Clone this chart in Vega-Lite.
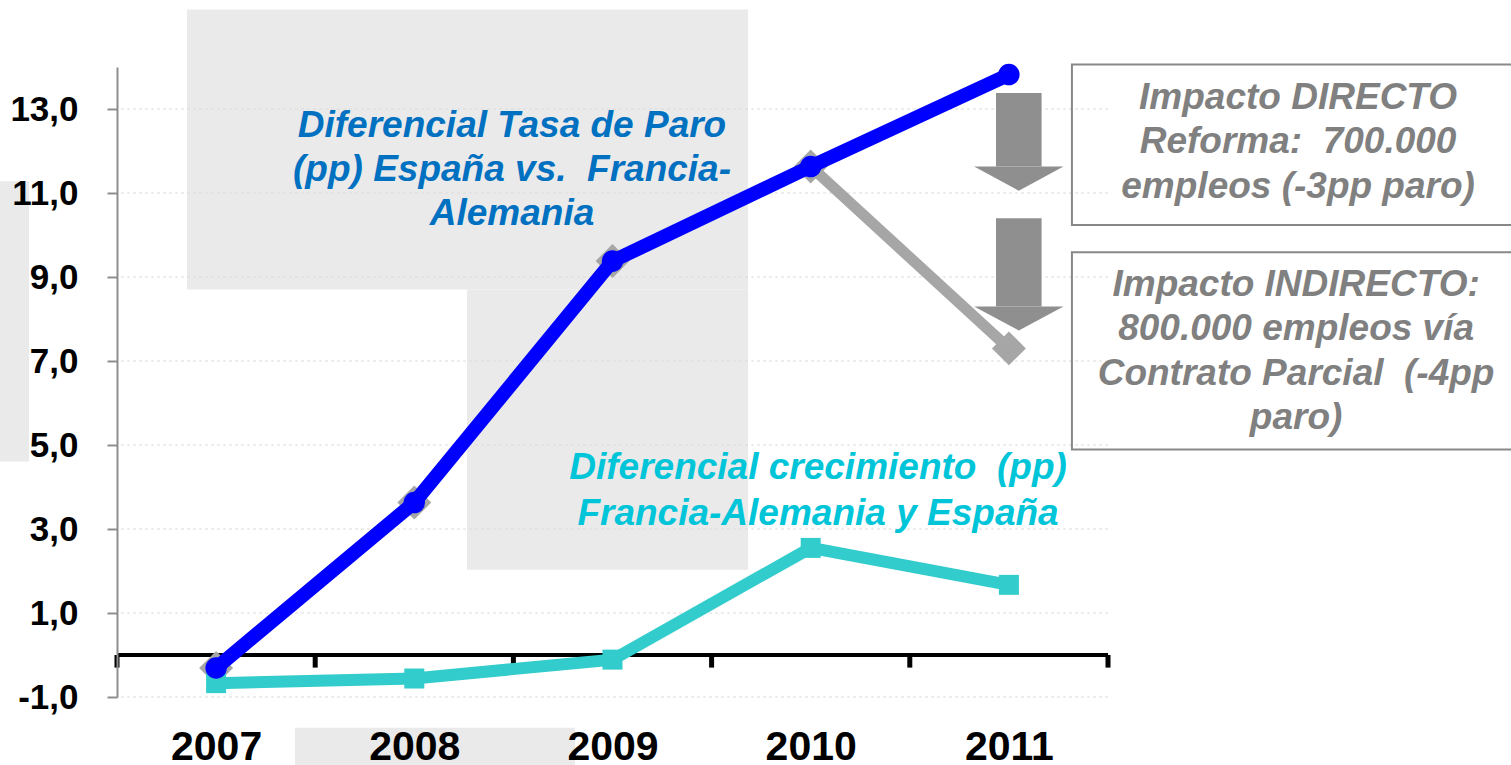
{
  "$schema": "https://vega.github.io/schema/vega-lite/v6.json",
  "autosize": {"type": "none"},
  "width": 991,
  "height": 630,
  "padding": {"left": 117, "top": 67, "right": 403, "bottom": 68},
  "background": "white",
  "config": {"view": {"stroke": null}, "font": "Liberation Sans"},
  "datasets": {
    "series": [
      {"year": 2007, "serie": "Tasa de paro", "value": -0.31},
      {"year": 2008, "serie": "Tasa de paro", "value": 3.63},
      {"year": 2009, "serie": "Tasa de paro", "value": 9.38},
      {"year": 2010, "serie": "Tasa de paro", "value": 11.63},
      {"year": 2011, "serie": "Tasa de paro", "value": 13.82},
      {"year": 2007, "serie": "Con reforma", "value": -0.31},
      {"year": 2008, "serie": "Con reforma", "value": 3.63},
      {"year": 2009, "serie": "Con reforma", "value": 9.38},
      {"year": 2010, "serie": "Con reforma", "value": 11.63},
      {"year": 2011, "serie": "Con reforma", "value": 7.3},
      {"year": 2007, "serie": "Crecimiento", "value": -0.67},
      {"year": 2008, "serie": "Crecimiento", "value": -0.56},
      {"year": 2009, "serie": "Crecimiento", "value": -0.11},
      {"year": 2010, "serie": "Crecimiento", "value": 2.55},
      {"year": 2011, "serie": "Crecimiento", "value": 1.67}
    ],
    "panels": [
      {"x1": 2006.853, "x2": 2009.684, "y1": 15.37, "y2": 8.7},
      {"x1": 2008.266, "x2": 2009.684, "y1": 8.7, "y2": 2.03},
      {"x1": 2005.9, "x2": 2006.056, "y1": 11.28, "y2": 4.61},
      {"x1": 2007.398, "x2": 2008.811, "y1": -1.73, "y2": -2.7}
    ],
    "grid": [{"g": -1}, {"g": 1}, {"g": 3}, {"g": 5}, {"g": 7}, {"g": 9}, {"g": 11}, {"g": 13}],
    "ticks": [{"t": 2006.5}, {"t": 2007.5}, {"t": 2008.5}, {"t": 2009.5}, {"t": 2010.5}, {"t": 2011.5}],
    "arrows": [
      {"xa": 2010.935, "xb": 2011.165, "xc": 2011.05, "top": 13.38, "base": 11.63},
      {"xa": 2010.935, "xb": 2011.165, "xc": 2011.05, "top": 10.4, "base": 8.3}
    ],
    "boxes": [
      {"x1": 2011.318, "x2": 2013.6, "y1": 14.06, "y2": 10.24},
      {"x1": 2011.318, "x2": 2013.6, "y1": 9.59, "y2": 4.89}
    ]
  },
  "layer": [
    {
      "data": {"name": "panels"},
      "mark": {"type": "rect", "color": "#EAEAEA", "clip": false},
      "encoding": {
        "x": {"field": "x1", "type": "quantitative", "title": null,
              "scale": {"domain": [2006.5, 2011.5], "nice": false, "zero": false},
              "axis": {"values": [2007, 2008, 2009, 2010, 2011], "format": "d", "domain": false, "ticks": false, "grid": false,
                       "labelFont": "Liberation Sans", "labelFontSize": 41, "labelFontWeight": "bold", "labelColor": "#000000",
                       "labelPadding": 30, "labelFlush": false, "title": null, "zindex": 1}},
        "x2": {"field": "x2"},
        "y": {"field": "y1", "type": "quantitative", "title": null,
              "scale": {"domain": [-1, 14], "nice": false, "zero": false},
              "axis": {"values": [-1, 1, 3, 5, 7, 9, 11, 13], "grid": false,
                       "labelExpr": "replace(replace(format(datum.value, '.1f'), '.', ','), '\u2212', '-')",
                       "domainColor": "#8E8E8E", "domainWidth": 2, "tickColor": "#8E8E8E", "tickWidth": 2, "tickSize": 10,
                       "labelFont": "Liberation Sans", "labelFontSize": 35, "labelFontWeight": "bold", "labelColor": "#000000",
                       "labelPadding": 29, "title": null, "zindex": 1}},
        "y2": {"field": "y2"}
      }
    },
    {
      "data": {"name": "grid"},
      "mark": {"type": "rule", "color": "#DCDCDC", "strokeWidth": 1, "strokeDash": [3, 3]},
      "encoding": {"y": {"field": "g", "type": "quantitative", "title": null}}
    },
    {
      "data": {"name": "ticks"},
      "mark": {"type": "rule", "color": "#000000", "strokeWidth": 5},
      "encoding": {
        "x": {"field": "t", "type": "quantitative", "title": null},
        "y": {"datum": 0, "type": "quantitative", "title": null},
        "y2": {"datum": -0.3}
      }
    },
    {
      "data": {"values": [{"z": 0}]},
      "mark": {"type": "rule", "color": "#000000", "strokeWidth": 4},
      "encoding": {"y": {"field": "z", "type": "quantitative", "title": null}}
    },
    {
      "data": {"name": "series"},
      "transform": [{"filter": "datum.serie === 'Con reforma'"}],
      "mark": {"type": "line", "color": "#A6A6A6", "strokeWidth": 11},
      "encoding": {
        "x": {"field": "year", "type": "quantitative", "title": null},
        "y": {"field": "value", "type": "quantitative", "title": null}
      }
    },
    {
      "data": {"name": "series"},
      "transform": [{"filter": "datum.serie === 'Con reforma'"}],
      "mark": {"type": "point", "shape": "diamond", "filled": true, "color": "#A6A6A6", "size": 1150, "opacity": 1},
      "encoding": {
        "x": {"field": "year", "type": "quantitative", "title": null},
        "y": {"field": "value", "type": "quantitative", "title": null}
      }
    },
    {
      "data": {"name": "series"},
      "transform": [{"filter": "datum.serie === 'Crecimiento'"}],
      "mark": {"type": "line", "color": "#33CCCC", "strokeWidth": 12},
      "encoding": {
        "x": {"field": "year", "type": "quantitative", "title": null},
        "y": {"field": "value", "type": "quantitative", "title": null}
      }
    },
    {
      "data": {"name": "series"},
      "transform": [{"filter": "datum.serie === 'Crecimiento'"}],
      "mark": {"type": "point", "shape": "square", "filled": true, "color": "#33CCCC", "size": 400, "opacity": 1},
      "encoding": {
        "x": {"field": "year", "type": "quantitative", "title": null},
        "y": {"field": "value", "type": "quantitative", "title": null}
      }
    },
    {
      "data": {"name": "series"},
      "transform": [{"filter": "datum.serie === 'Tasa de paro'"}],
      "mark": {"type": "line", "color": "#0000FF", "strokeWidth": 14},
      "encoding": {
        "x": {"field": "year", "type": "quantitative", "title": null},
        "y": {"field": "value", "type": "quantitative", "title": null}
      }
    },
    {
      "data": {"name": "series"},
      "transform": [{"filter": "datum.serie === 'Tasa de paro'"}],
      "mark": {"type": "point", "shape": "circle", "filled": true, "color": "#0000FF", "size": 460, "opacity": 1},
      "encoding": {
        "x": {"field": "year", "type": "quantitative", "title": null},
        "y": {"field": "value", "type": "quantitative", "title": null}
      }
    },
    {
      "data": {"name": "arrows"},
      "mark": {"type": "rect", "color": "#8F8F8F", "clip": false},
      "encoding": {
        "x": {"field": "xa", "type": "quantitative", "title": null},
        "x2": {"field": "xb"},
        "y": {"field": "top", "type": "quantitative", "title": null},
        "y2": {"field": "base"}
      }
    },
    {
      "data": {"name": "arrows"},
      "mark": {"type": "point", "shape": "M-1,0L1,0L0,0.54Z", "filled": true, "color": "#8F8F8F", "size": 7990, "opacity": 1},
      "encoding": {
        "x": {"field": "xc", "type": "quantitative", "title": null},
        "y": {"field": "base", "type": "quantitative", "title": null}
      }
    },
    {
      "data": {"name": "boxes"},
      "mark": {"type": "rect", "fill": "#FFFFFF", "fillOpacity": 0, "stroke": "#888888", "strokeWidth": 2, "clip": false},
      "encoding": {
        "x": {"field": "x1", "type": "quantitative", "title": null},
        "x2": {"field": "x2"},
        "y": {"field": "y1", "type": "quantitative", "title": null},
        "y2": {"field": "y2"}
      }
    },
    {
      "data": {"values": [
        {"x": 2008.493, "y": 12.6, "label": "Diferencial Tasa de Paro\n(pp) España vs.\u00a0 Francia-\nAlemania"}
      ]},
      "mark": {"type": "text", "font": "Liberation Sans", "fontSize": 37, "fontWeight": "bold", "fontStyle": "italic",
               "color": "#0070C0", "align": "center", "baseline": "middle", "lineBreak": "\n", "lineHeight": 44},
      "encoding": {
        "x": {"field": "x", "type": "quantitative", "title": null},
        "y": {"field": "y", "type": "quantitative", "title": null},
        "text": {"field": "label"}
      }
    },
    {
      "data": {"values": [
        {"x": 2010.037, "y": 4.46, "label": "Diferencial crecimiento\u00a0 (pp)\nFrancia-Alemania y España"}
      ]},
      "mark": {"type": "text", "font": "Liberation Sans", "fontSize": 37, "fontWeight": "bold", "fontStyle": "italic",
               "color": "#00C5D9", "align": "center", "baseline": "middle", "lineBreak": "\n", "lineHeight": 46},
      "encoding": {
        "x": {"field": "x", "type": "quantitative", "title": null},
        "y": {"field": "y", "type": "quantitative", "title": null},
        "text": {"field": "label"}
      }
    },
    {
      "data": {"values": [
        {"x": 2012.459, "y": 13.27, "label": "Impacto DIRECTO\nReforma:\u00a0 700.000\nempleos (-3pp paro)"},
        {"x": 2012.449, "y": 8.817, "label": "Impacto INDIRECTO:\n800.000 empleos vía\nContrato Parcial\u00a0 (-4pp\nparo)"}
      ]},
      "mark": {"type": "text", "font": "Liberation Sans", "fontSize": 37, "fontWeight": "bold", "fontStyle": "italic",
               "color": "#808080", "align": "center", "baseline": "middle", "lineBreak": "\n", "lineHeight": 44.5},
      "encoding": {
        "x": {"field": "x", "type": "quantitative", "title": null},
        "y": {"field": "y", "type": "quantitative", "title": null},
        "text": {"field": "label"}
      }
    }
  ]
}
